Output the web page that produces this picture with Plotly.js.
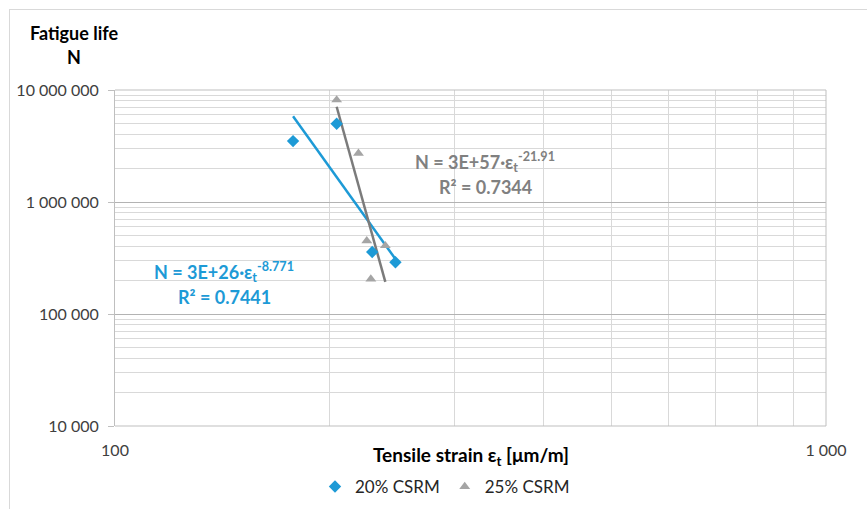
<!DOCTYPE html>
<html>
<head>
<meta charset="utf-8">
<script src="https://cdn.plot.ly/plotly-3.0.1.min.js"></script>
<style>
html,body{margin:0;padding:0;background:#fff;}
#frame{position:absolute;left:9px;top:9px;width:900px;height:520px;border-left:1px solid #d9d9d9;border-top:1px solid #d9d9d9;}
#chart{position:absolute;left:0;top:0;width:867px;height:509px;}
</style>
</head>
<body>
<div id="frame"></div>
<div id="chart"></div>
<script>
// Data
const strain20 = [178, 205, 230, 248];
const life20   = [3500000, 5000000, 358000, 290000];
const strain25 = [205, 220, 226, 240, 229];
const life25   = [8150000, 2720000, 450000, 407000, 205000];
const seriesNames = ['20% CSRM', '25% CSRM'];
const eq20 = ['N = 3E+26·ε<sub>t</sub><sup>-8.771</sup>', 'R² = 0.7441'];
const eq25 = ['N = 3E+57·ε<sub>t</sub><sup>-21.91</sup>', 'R² = 0.7344'];

const BLUE = '#1d9ad6', GREY_M = '#a5a5a5', GREY_L = '#7b7b7b', GREY_T = '#808080';

// power trendline (least squares in log-log) spanning the data range
function powerFit(xs, ys){
  const lx = xs.map(Math.log10), ly = ys.map(Math.log10);
  const n = xs.length;
  const mx = lx.reduce((a,b)=>a+b,0)/n, my = ly.reduce((a,b)=>a+b,0)/n;
  let sxy=0, sxx=0;
  for(let i=0;i<n;i++){ sxy+=(lx[i]-mx)*(ly[i]-my); sxx+=(lx[i]-mx)**2; }
  const b = sxy/sxx, a = my - b*mx;
  const x0 = Math.min(...xs), x1 = Math.max(...xs);
  return {x:[x0,x1], y:[Math.pow(10,a+b*Math.log10(x0)), Math.pow(10,a+b*Math.log10(x1))]};
}
const t20 = powerFit(strain20, life20);
const t25 = powerFit(strain25, life25);

const traces = [
  {x:t20.x, y:t20.y, mode:'lines', line:{color:BLUE, width:2.5}, showlegend:false, hoverinfo:'skip'},
  {x:t25.x, y:t25.y, mode:'lines', line:{color:GREY_L, width:2.5}, showlegend:false, hoverinfo:'skip'},
  {x:strain20, y:life20, mode:'markers', name:seriesNames[0], marker:{symbol:'diamond', size:9.5, color:BLUE}},
  {x:strain25, y:life25, mode:'markers', name:seriesNames[1], marker:{symbol:'triangle-up', size:9.5, color:GREY_M}}
];

// pixel helpers for paper coordinates
const L=115, R=826, T=90, B=426;
const px = v => (v-L)/(R-L);
const py = v => (B-v)/(B-T);

const FONT = 'Lato, "Open Sans", sans-serif';
const eqFont = (c)=>({family:FONT, size:18, color:c});

const layout = {
  width:867, height:509,
  margin:{l:L, r:867-R, t:T, b:509-B},
  paper_bgcolor:'rgba(0,0,0,0)', plot_bgcolor:'#fff',
  separators:'. ',
  font:{family:FONT, size:15, color:'#404040'},
  showlegend:true,
  legend:{orientation:'h', xref:'container', yref:'container', x:445/867, xanchor:'center', y:(509-487)/509, yanchor:'middle',
          font:{size:17, color:'#262626'}, tracegroupgap:0, itemwidth:30, bgcolor:'rgba(0,0,0,0)'},
  xaxis:{type:'log', range:[2,3], dtick:1, tickformat:',d', showline:false, zeroline:false, automargin:false,
         showgrid:true, gridcolor:'#d9d9d9', gridwidth:1, ticks:'', ticklabelstandoff:13,
         tickfont:{size:16, color:'#404040'},
         minor:{dtick:'D1', showgrid:true, gridcolor:'#d9d9d9', gridwidth:1, ticks:''}},
  yaxis:{type:'log', range:[4,7], dtick:1, tickformat:',d', showline:true, linecolor:'#bfbfbf', linewidth:1,
         zeroline:false, showgrid:true, gridcolor:'#b3b3b3', gridwidth:1, automargin:false,
         ticks:'outside', ticklen:6, tickcolor:'#bfbfbf', ticklabelstandoff:6,
         tickfont:{size:16, color:'#404040'},
         minor:{dtick:'D1', showgrid:true, gridcolor:'#d9d9d9', gridwidth:1, ticks:''}},
  shapes:[
    {type:'line', xref:'paper', yref:'paper', x0:0, x1:1, y0:0, y1:0, line:{color:'#bfbfbf', width:1}},
    {type:'line', xref:'paper', yref:'paper', x0:1, x1:1, y0:0, y1:1, line:{color:'#bfbfbf', width:1}},
    {type:'line', xref:'paper', yref:'paper', x0:0, x1:1, y0:1, y1:1, line:{color:'#bfbfbf', width:1}}
  ],
  annotations:[
    {xref:'paper', yref:'paper', x:px(74), y:py(33), xanchor:'center', yanchor:'middle', showarrow:false,
     text:'<b>Fatigue life</b>', font:{size:18, color:'#000'}},
    {xref:'paper', yref:'paper', x:px(74), y:py(57), xanchor:'center', yanchor:'middle', showarrow:false,
     text:'<b>N</b>', font:{size:18, color:'#000'}},
    {xref:'paper', yref:'paper', x:px(471), y:py(456), xanchor:'center', yanchor:'middle', showarrow:false,
     text:'<b>Tensile strain ε<sub>t</sub> [μm/m]</b>', font:{size:19, color:'#000'}},
    {xref:'paper', yref:'paper', x:px(224), y:py(272), xanchor:'center', yanchor:'middle', showarrow:false,
     text:'<b>'+eq20[0]+'</b>', font:eqFont(BLUE)},
    {xref:'paper', yref:'paper', x:px(224), y:py(297), xanchor:'center', yanchor:'middle', showarrow:false,
     text:'<b>'+eq20[1]+'</b>', font:eqFont(BLUE)},
    {xref:'paper', yref:'paper', x:px(485), y:py(162), xanchor:'center', yanchor:'middle', showarrow:false,
     text:'<b>'+eq25[0]+'</b>', font:eqFont(GREY_T)},
    {xref:'paper', yref:'paper', x:px(485), y:py(187), xanchor:'center', yanchor:'middle', showarrow:false,
     text:'<b>'+eq25[1]+'</b>', font:eqFont(GREY_T)}
  ]
};

Plotly.newPlot('chart', traces, layout, {displayModeBar:false, staticPlot:true});
</script>
</body>
</html>
